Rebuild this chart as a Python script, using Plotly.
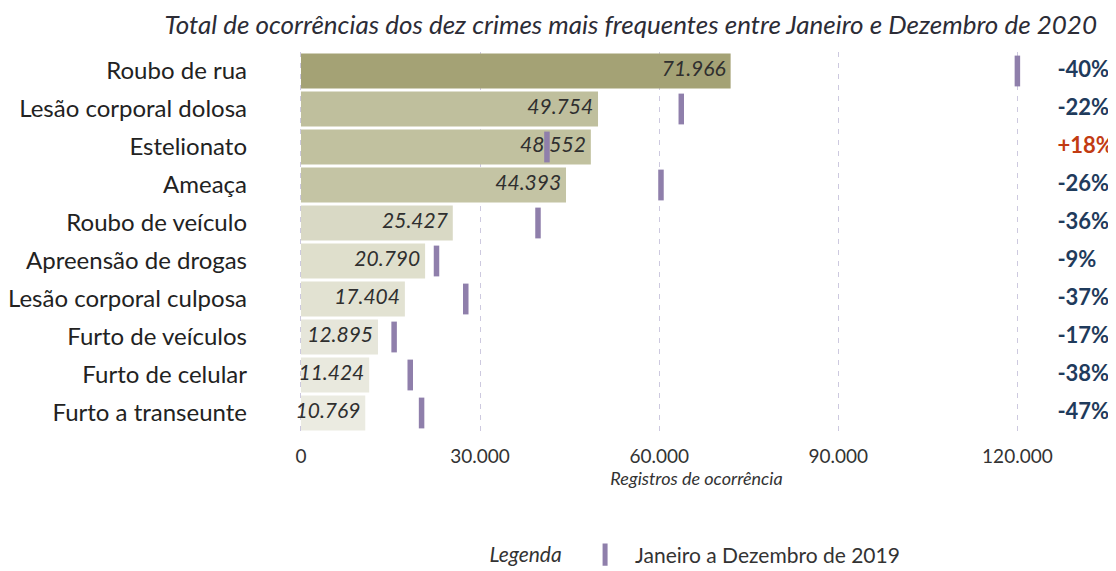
import plotly.graph_objects as go

categories = ["Roubo de rua", "Lesão corporal dolosa", "Estelionato", "Ameaça",
              "Roubo de veículo", "Apreensão de drogas", "Lesão corporal culposa",
              "Furto de veículos", "Furto de celular", "Furto a transeunte"]
values_2020 = [71966, 49754, 48552, 44393, 25427, 20790, 17404, 12895, 11424, 10769]
values_2019 = [120000, 63700, 41200, 60300, 39700, 22700, 27600, 15600, 18300, 20200]
pct_labels = ["-40%", "-22%", "+18%", "-26%", "-36%", "-9%", "-37%", "-17%", "-38%", "-47%"]
tick_vals = [0, 30000, 60000, 90000, 120000]
tick_text = ["0", "30.000", "60.000", "90.000", "120.000"]

bar_colors = ["#a4a275", "#bfbf9d", "#c1c19f", "#c4c4a4", "#d9d9c5",
              "#dfdfcc", "#e2e2d2", "#e6e6da", "#e9e9de", "#ebebe1"]
pct_colors = ["#c23b12" if p.startswith("+") else "#1f3b5c" for p in pct_labels]
fmt = lambda v: f"{v:,}".replace(",", ".")
PCT_X = 126700

# page body adds an 8px offset, so the figure is sized to the remaining window
W, H = 1108, 563
FONT = "Lato"
fig = go.Figure()
fig.add_trace(go.Bar(
    x=values_2020, y=categories, orientation="h",
    marker=dict(color=bar_colors, line=dict(width=0)),
    showlegend=False, hoverinfo="x+y",
))
fig.add_trace(go.Scatter(
    x=values_2020, y=categories, mode="text",
    text=[fmt(v) + " " for v in values_2020], textposition="middle left",
    textfont=dict(family=FONT, size=21, color="#2f2f2f", style="italic"),
    showlegend=False, cliponaxis=False, hoverinfo="skip",
))
fig.add_trace(go.Scatter(
    x=values_2019, y=categories, mode="markers",
    marker=dict(symbol="line-ns", size=22, color="#8f7fab",
                line=dict(width=5.5, color="#8f7fab")),
    name="Janeiro a Dezembro de 2019", showlegend=True,
))
fig.add_trace(go.Scatter(
    x=[PCT_X] * len(categories), y=categories, mode="text",
    text=pct_labels, textposition="middle right",
    textfont=dict(family=FONT, size=22, color=pct_colors, weight="bold"),
    showlegend=False, cliponaxis=False, hoverinfo="skip",
))

fig.update_layout(
    width=W, height=H,
    margin=dict(l=290, r=21, t=44, b=139, autoexpand=False),
    paper_bgcolor="white", plot_bgcolor="white",
    font=dict(family=FONT, color="#222"),
    bargap=0.084,
    title=dict(text="Total de ocorrências dos dez crimes mais frequentes entre Janeiro e Dezembro de 2020",
               x=1089 / W, xanchor="right", xref="container",
               y=1 - 16.5 / H, yanchor="middle", yref="container",
               font=dict(family=FONT, size=26, color="#2c2c36", style="italic")),
    xaxis=dict(range=[-500, 133000], tickvals=tick_vals, ticktext=tick_text,
               showgrid=True, gridcolor="#cdc9df", griddash="5px,6px", gridwidth=1.3,
               zeroline=False, showline=False, ticks="", automargin=False,
               ticklabelstandoff=11,
               tickfont=dict(family=FONT, size=19, color="#333"),
               title=dict(text="Registros de ocorrência", standoff=4,
                          font=dict(family=FONT, size=18, color="#333", style="italic"))),
    yaxis=dict(categoryorder="array", categoryarray=categories,
               range=[len(categories) - 0.5, -0.5],
               showgrid=False, zeroline=False, showline=False, ticks="",
               ticklabelstandoff=50, automargin=False,
               tickfont=dict(family=FONT, size=24, color="#222")),
    legend=dict(orientation="h", x=0.5, xanchor="center", xref="paper",
                y=(H - 547) / H, yanchor="middle", yref="container",
                title=dict(text="<i>Legenda</i> ", font=dict(family=FONT, size=21, color="#333")),
                font=dict(family=FONT, size=21, color="#333"), itemwidth=50),
)
fig.write_html("out.html")
